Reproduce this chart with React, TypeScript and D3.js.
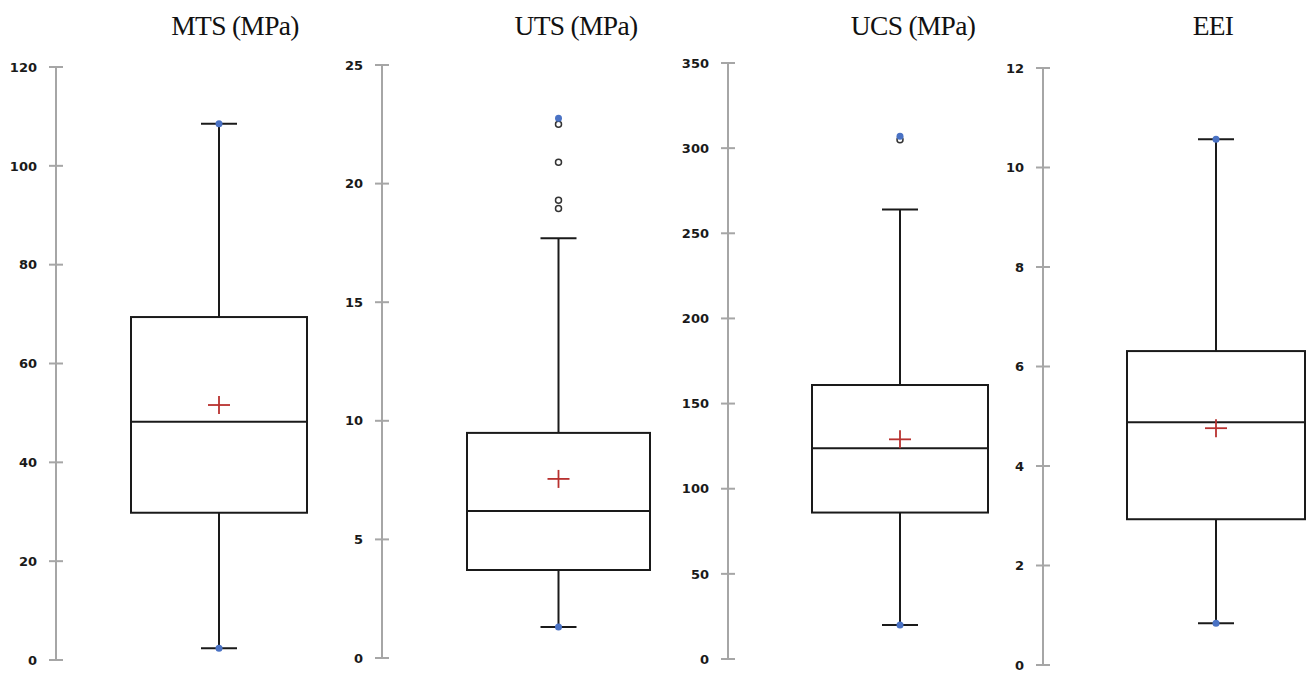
import { useEffect } from 'react'
import * as d3 from 'd3'

// box plot stats
const titles = ['MTS (MPa)', 'UTS (MPa)', 'UCS (MPa)', 'EEI']
const minVals = [2.4, 1.31, 20, 0.84]
const q1Vals = [29.8, 3.71, 86, 2.93]
const medianVals = [48.2, 6.2, 123.7, 4.88]
const q3Vals = [69.4, 9.49, 160.9, 6.31]
const whiskerHigh = [108.5, 17.7, 264, 10.57]
const maxVals = [108.5, 22.75, 307, 10.57]
const meanVals = [51.6, 7.55, 129, 4.76]
const outliers = [[], [22.5, 20.9, 19.3, 18.95], [305], []]
const axisMax = [120, 25, 350, 12]
const tickStep = [20, 5, 50, 2]

// layout of each panel
const layout = [
  { axisX: 56, boxL: 131, boxR: 307, top: 67, bottom: 660, titleX: 235 },
  { axisX: 382, boxL: 467, boxR: 650, top: 65, bottom: 658, titleX: 576 },
  { axisX: 728, boxL: 812, boxR: 988, top: 63, bottom: 659, titleX: 913 },
  { axisX: 1043, boxL: 1127, boxR: 1305, top: 68, bottom: 665, titleX: 1213 },
]

const axisColor = '#a6a6a6'
const boxColor = '#1a1a1a'
const meanColor = '#b8312f'
const dotColor = '#4a72c4'

function Panel({ i }: { i: number }) {
  const L = layout[i]
  const y = d3.scaleLinear().domain([0, axisMax[i]]).range([L.bottom, L.top])
  const ticks = d3.range(0, axisMax[i] + tickStep[i] / 2, tickStep[i])
  const cx = (L.boxL + L.boxR) / 2
  const cap = 18
  return (
    <g>
      <text x={L.titleX} y={35} textAnchor="middle" fontFamily="'Liberation Serif', serif" fontSize={27.5} letterSpacing={-0.7} fill="#111">
        {titles[i]}
      </text>
      <line x1={L.axisX} x2={L.axisX} y1={y(axisMax[i])} y2={y(0)} stroke={axisColor} strokeWidth={2} />
      {ticks.map(t => (
        <g key={t}>
          <line x1={L.axisX - 7} x2={L.axisX + 7} y1={y(t)} y2={y(t)} stroke={axisColor} strokeWidth={2} />
          <text x={L.axisX - 19} y={y(t)} dy="0.36em" textAnchor="end" fontFamily="'DejaVu Sans', sans-serif" fontWeight="bold" fontSize={13} fill="#1a1a1a">
            {t}
          </text>
        </g>
      ))}
      {/* whiskers */}
      <line x1={cx} x2={cx} y1={y(q3Vals[i])} y2={y(whiskerHigh[i])} stroke={boxColor} strokeWidth={2} />
      <line x1={cx} x2={cx} y1={y(q1Vals[i])} y2={y(minVals[i])} stroke={boxColor} strokeWidth={2} />
      <line x1={cx - cap} x2={cx + cap} y1={y(whiskerHigh[i])} y2={y(whiskerHigh[i])} stroke={boxColor} strokeWidth={2} />
      <line x1={cx - cap} x2={cx + cap} y1={y(minVals[i])} y2={y(minVals[i])} stroke={boxColor} strokeWidth={2} />
      {/* box */}
      <rect x={L.boxL} y={y(q3Vals[i])} width={L.boxR - L.boxL} height={y(q1Vals[i]) - y(q3Vals[i])} fill="#fff" stroke={boxColor} strokeWidth={2} />
      <line x1={L.boxL} x2={L.boxR} y1={y(medianVals[i])} y2={y(medianVals[i])} stroke={boxColor} strokeWidth={2} />
      {/* mean */}
      <line x1={cx - 11} x2={cx + 11} y1={y(meanVals[i])} y2={y(meanVals[i])} stroke={meanColor} strokeWidth={1.8} />
      <line x1={cx} x2={cx} y1={y(meanVals[i]) - 9} y2={y(meanVals[i]) + 9} stroke={meanColor} strokeWidth={1.8} />
      {/* outliers */}
      {outliers[i].map((o, k) => (
        <circle key={k} cx={cx} cy={y(o)} r={3} fill="#fff" stroke="#333" strokeWidth={1.5} />
      ))}
      {/* min / max */}
      <circle cx={cx} cy={y(minVals[i])} r={3.5} fill={dotColor} />
      <circle cx={cx} cy={y(maxVals[i])} r={3.5} fill={dotColor} />
    </g>
  )
}

export default function App() {
  useEffect(() => {
    document.body.style.margin = '0'
  }, [])
  return (
    <svg width={1309} height={674} style={{ display: 'block', background: '#fff' }}>
      {titles.map((_, i) => (
        <Panel key={i} i={i} />
      ))}
    </svg>
  )
}
